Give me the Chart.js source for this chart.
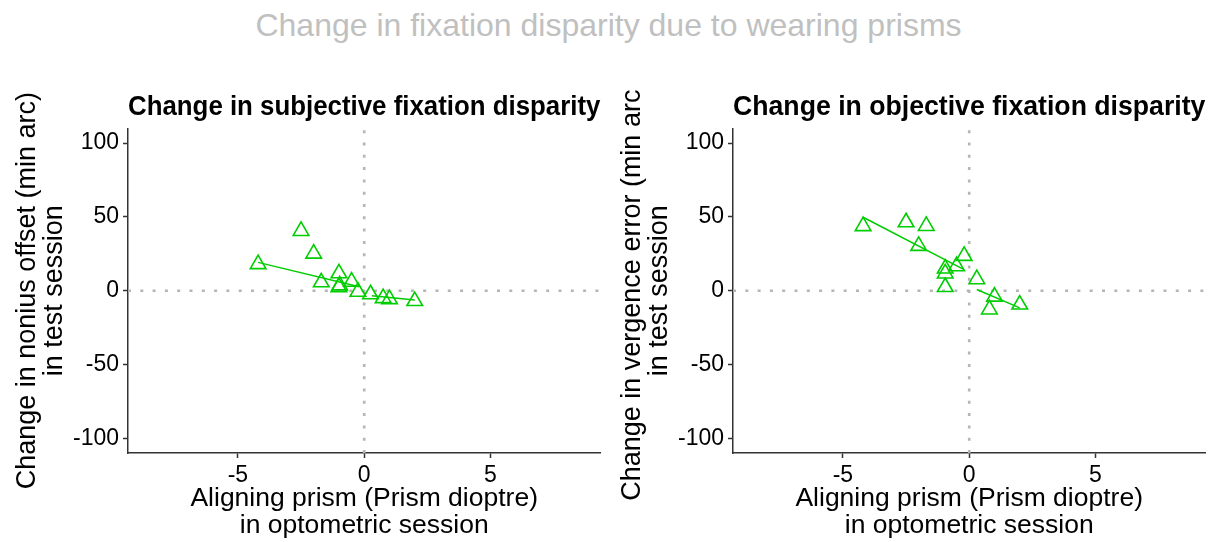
<!DOCTYPE html>
<html>
<head>
<meta charset="utf-8">
<script src="https://cdn.jsdelivr.net/npm/chart.js@4.4.1/dist/chart.umd.min.js"></script>
<style>
body { margin: 0; background: #fff; width: 1209px; height: 542px; overflow: hidden; position: relative; font-family: 'Liberation Sans', Arial, sans-serif; }
#mainTitle { position: absolute; top: 8px; left: 4px; width: 1209px; text-align: center; font-size: 32px; line-height: 34px; color: #c0c0c0; }
.panel { position: absolute; top: 90px; width: 611px; height: 452px; }
</style>
</head>
<body>
<div id="mainTitle">Change in fixation disparity due to wearing prisms</div>
<div class="panel" style="left:0"><canvas id="subjChart" width="611" height="452"></canvas></div>
<div class="panel" style="left:605px"><canvas id="objChart" width="611" height="452"></canvas></div>
<script>
// axis setup
const xRange = [-9.35, 9.35];
const yRange = [-110, 110];
const xTicks = [-5, 0, 5];
const yTicks = [-100, -50, 0, 50, 100];

// subjective: nonius offset change vs aligning prism
const subjX = [-4.2, -2.5, -2.0, -1.7, -1.0, -1.0, -0.97, -0.5, -0.25, 0.25, 0.75, 1.0, 2.0];
const subjY = [18, 40.5, 25.1, 5.7, 11.8, 2.4, 3.6, 6.1, -0.7, -2.4, -5.0, -5.7, -7.0];
const subjFitNegX = [-4.2, -0.2];
const subjFitNegY = [19.2, 2.7];
const subjFitPosX = [0.3, 2.0];
const subjFitPosY = [-3.4, -6.3];

// objective: vergence error change vs aligning prism
const objX = [-4.2, -2.5, -1.7, -2.0, -0.2, -0.5, -0.95, -0.95, -0.95, 0.3, 1.0, 0.8, 2.0];
const objY = [43.8, 46.4, 43.9, 30.4, 23.6, 16.6, 15.0, 11.7, 2.5, 7.8, -4.0, -12.7, -9.4];
const objFitNegX = [-4.2, -0.2];
const objFitNegY = [49.8, 14.3];
const objFitPosX = [0.3, 2.0];
const objFitPosY = [0.8, -11.6];

const green = '#00cd00';
const refGray = '#b5b5b5';
const fam = "'Liberation Sans', Arial, sans-serif";

function pairs(xs, ys) {
    return xs.map((x, i) => ({x: x, y: ys[i]}));
}

function makePanel(id, title, yTitle, xs, ys, negX, negY, posX, posY) {
    const ctx = document.getElementById(id).getContext('2d');
    return new Chart(ctx, {
        type: 'scatter',
        data: {
            datasets: [
                {
                    data: pairs(xs, ys),
                    pointStyle: 'triangle',
                    pointRadius: 9,
                    pointBorderWidth: 1.6,
                    pointBorderColor: green,
                    pointBackgroundColor: 'rgba(0,0,0,0)'
                },
                {
                    data: pairs(negX, negY),
                    showLine: true, pointRadius: 0,
                    borderColor: green, borderWidth: 1.5
                },
                {
                    data: pairs(posX, posY),
                    showLine: true, pointRadius: 0,
                    borderColor: green, borderWidth: 1.5
                },
                {
                    data: pairs(xRange, [0, 0]),
                    showLine: true, pointRadius: 0,
                    borderColor: refGray, borderWidth: 2.6, borderDash: [3, 9.3]
                },
                {
                    data: pairs([0, 0], yRange),
                    showLine: true, pointRadius: 0,
                    borderColor: refGray, borderWidth: 2.6, borderDash: [3, 9.3]
                }
            ]
        },
        options: {
            responsive: false,
            animation: false,
            layout: {padding: 0},
            plugins: {
                legend: {display: false},
                tooltip: {enabled: false},
                title: {
                    display: true,
                    text: title,
                    fullSize: false,
                    color: '#000',
                    font: {family: fam, size: 27, weight: 'bold', lineHeight: 1.2},
                    padding: {top: 1, bottom: 5}
                }
            },
            scales: {
                x: {
                    type: 'linear',
                    min: xRange[0], max: xRange[1],
                    afterBuildTicks: s => { s.ticks = xTicks.map(v => ({value: v})); },
                    afterFit: s => { s.height = 89; s.paddingLeft = 0; s.paddingRight = 0; },
                    border: {color: '#333', width: 1.5},
                    grid: {drawOnChartArea: false, tickLength: 5, tickColor: '#333', tickWidth: 1.5},
                    ticks: {color: '#000', font: {family: fam, size: 23}, padding: 4, maxRotation: 0},
                    title: {
                        display: true,
                        text: ['Aligning prism (Prism dioptre)', 'in optometric session'],
                        color: '#000',
                        font: {family: fam, size: 26.5, lineHeight: 1.02},
                        padding: {top: 0, bottom: 3}
                    }
                },
                y: {
                    type: 'linear',
                    min: yRange[0], max: yRange[1],
                    afterBuildTicks: s => { s.ticks = yTicks.map(v => ({value: v})); },
                    afterFit: s => { s.width = 128; s.paddingTop = 0; s.paddingBottom = 0; },
                    border: {color: '#333', width: 1.5},
                    grid: {drawOnChartArea: false, tickLength: 5, tickColor: '#333', tickWidth: 1.5},
                    ticks: {color: '#000', font: {family: fam, size: 23}, padding: 4},
                    title: {
                        display: true,
                        text: yTitle,
                        color: '#000',
                        font: {family: fam, size: 27, lineHeight: 1.0},
                        padding: {top: 14, bottom: 0}
                    }
                }
            }
        }
    });
}

makePanel('subjChart', 'Change in subjective fixation disparity',
    ['Change in nonius offset (min arc)', 'in test session'],
    subjX, subjY, subjFitNegX, subjFitNegY, subjFitPosX, subjFitPosY);

makePanel('objChart', 'Change in objective fixation disparity',
    ['Change in vergence error (min arc)', 'in test session'],
    objX, objY, objFitNegX, objFitNegY, objFitPosX, objFitPosY);
</script>
</body>
</html>
